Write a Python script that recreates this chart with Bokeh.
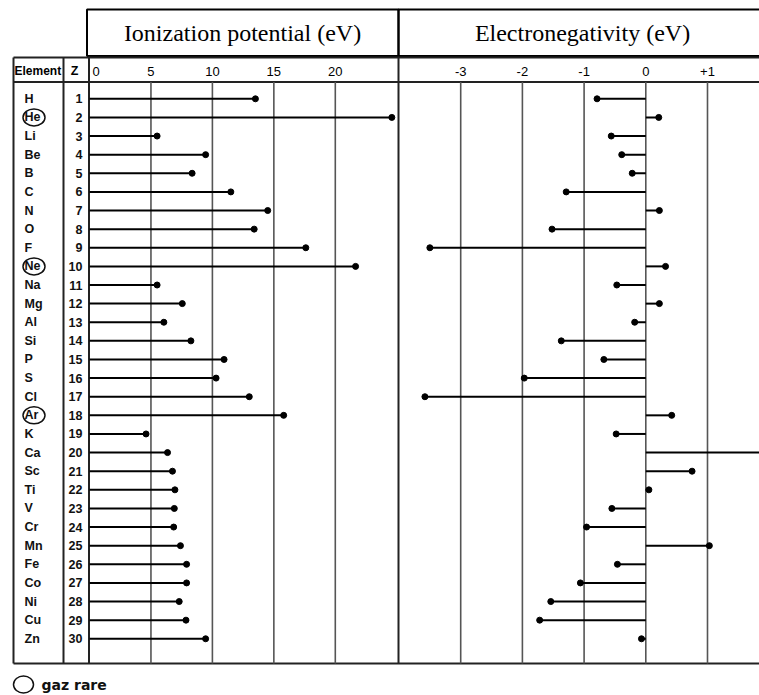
from bokeh.plotting import figure
from bokeh.models import Range1d
from bokeh.embed import file_html
from bokeh.resources import INLINE
from bokeh.core.properties import value

# ---------------- data ----------------
elements = ["H", "He", "Li", "Be", "B", "C", "N", "O", "F", "Ne",
            "Na", "Mg", "Al", "Si", "P", "S", "Cl", "Ar", "K", "Ca",
            "Sc", "Ti", "V", "Cr", "Mn", "Fe", "Co", "Ni", "Cu", "Zn"]
z_numbers = [1, 2, 3, 4, 5, 6, 7, 8, 9, 10,
             11, 12, 13, 14, 15, 16, 17, 18, 19, 20,
             21, 22, 23, 24, 25, 26, 27, 28, 29, 30]
ionization = [13.5, 24.6, 5.5, 9.45, 8.35, 11.5, 14.5, 13.4, 17.6, 21.65,
              5.5, 7.55, 6.05, 8.25, 10.95, 10.3, 13.0, 15.8, 4.6, 6.35,
              6.75, 6.95, 6.9, 6.85, 7.4, 7.9, 7.9, 7.3, 7.85, 9.45]
electronegativity = [-0.79, 0.21, -0.56, -0.39, -0.22, -1.29, 0.22, -1.52, -3.5, 0.32,
                     -0.47, 0.22, -0.18, -1.37, -0.68, -1.97, -3.58, 0.42, -0.48, 2.0,
                     0.75, 0.05, -0.55, -0.96, 1.03, -0.46, -1.06, -1.54, -1.72, -0.07]
rare_gases = ["He", "Ne", "Ar"]
ion_ticks = [0, 5, 10, 15, 20]
ion_tick_labels = ["0", "5", "10", "15", "20"]
en_ticks = [-3, -2, -1, 0, 1]
en_tick_labels = ["-3", "-2", "-1", "0", "+1"]
title_ion = "Ionization potential (eV)"
title_en = "Electronegativity (eV)"
legend_text = "gaz rare"

# ---------------- layout (page pixels) ----------------
W, H = 759, 695
LEFT, TOP = 0, 0
RIGHT, BOTTOM = LEFT + W, TOP + H

ion_x0, ion_scale = 89.0, 12.29      # page x of 0 eV, px per eV
en_x0, en_scale = 645.3, 61.7
row1_y, row_step = 98.3, 18.62

p = figure(width=W, height=H, x_range=Range1d(LEFT, RIGHT), y_range=Range1d(BOTTOM, TOP),
           x_axis_type=None, y_axis_type=None, toolbar_location=None,
           output_backend="svg", min_border=0, outline_line_color=None,
           background_fill_color="white", border_fill_color="white")

p.extra_x_ranges = {
    "ion": Range1d((LEFT - ion_x0) / ion_scale, (RIGHT - ion_x0) / ion_scale),
    "en": Range1d((LEFT - en_x0) / en_scale, (RIGHT - en_x0) / en_scale),
}
p.extra_y_ranges = {
    "z": Range1d(1 + (BOTTOM - row1_y) / row_step, 1 + (TOP - row1_y) / row_step),
}

border_col = "#222222"
grid_col = "#555555"

# title boxes
p.quad(left=[86.5, 398], right=[398, 780], top=[9, 9], bottom=[55.5, 55.5],
       fill_color=None, line_color="black", line_width=2)
p.text(x=[242, 582], y=[32, 32], text=[title_ion, title_en],
       text_font=value("Liberation Serif"), text_font_size="24px",
       text_align="center", text_baseline="middle", text_color="black")

# table frame
hy = [57, 81.5, 663]
p.segment(x0=[13] * 3, x1=[RIGHT + 5] * 3, y0=hy, y1=hy, line_color=border_col, line_width=2)
vx = [13, 63, 88.5, 398]
p.segment(x0=vx, x1=vx, y0=[57] * 4, y1=[663] * 4, line_color=border_col, line_width=2)

# grid lines
ion_grid = [t for t in ion_ticks if t != 0]
p.segment(x0=ion_grid, x1=ion_grid, y0=[81.5] * len(ion_grid), y1=[663] * len(ion_grid),
          x_range_name="ion", line_color=grid_col, line_width=1.6)
p.segment(x0=en_ticks, x1=en_ticks, y0=[81.5] * len(en_ticks), y1=[663] * len(en_ticks),
          x_range_name="en", line_color=grid_col, line_width=1.6)

# header row
hdr_font = value("Liberation Sans")
p.text(x=[14], y=[70.5], text=["Element"], text_font=hdr_font, text_font_style="bold",
       text_font_size="12px", text_align="left", text_baseline="middle")
p.text(x=[74], y=[70.5], text=["Z"], text_font=hdr_font, text_font_style="bold",
       text_font_size="12.5px", text_align="center", text_baseline="middle")
p.text(x=ion_ticks[:1], y=[70.5], text=ion_tick_labels[:1], x_range_name="ion", x_offset=3,
       text_font=hdr_font, text_font_size="13px", text_align="left", text_baseline="middle")
p.text(x=ion_ticks[1:], y=[70.5] * (len(ion_ticks) - 1), text=ion_tick_labels[1:], x_range_name="ion",
       text_font=hdr_font, text_font_size="13px", text_align="center", text_baseline="middle")
p.text(x=en_ticks, y=[70.5] * len(en_ticks), text=en_tick_labels, x_range_name="en",
       text_font=hdr_font, text_font_size="13px", text_align="center", text_baseline="middle")

# element and Z labels
p.text(x=[24] * len(elements), y=z_numbers, text=elements, y_range_name="z",
       text_font=hdr_font, text_font_style="bold", text_font_size="12.5px",
       text_align="left", text_baseline="middle", text_color="#111111")
p.text(x=[82] * len(z_numbers), y=z_numbers, text=[str(z) for z in z_numbers], y_range_name="z",
       text_font=hdr_font, text_font_style="bold", text_font_size="12.5px",
       text_align="right", text_baseline="middle", text_color="#111111")

# rare gas circles
rg_z = [z for z, e in zip(z_numbers, elements) if e in rare_gases]
p.ellipse(x=[33.5] * len(rg_z), y=rg_z, width=22, height=17, width_units="screen", height_units="screen",
          y_range_name="z", fill_color=None, line_color="#111111", line_width=1.5)

# ionization lollipops
p.segment(x0=[0] * len(ionization), x1=ionization, y0=z_numbers, y1=z_numbers,
          x_range_name="ion", y_range_name="z", line_color="black", line_width=2)
p.scatter(x=ionization, y=z_numbers, x_range_name="ion", y_range_name="z",
          size=6, color="black")

# electronegativity lollipops
p.segment(x0=[0] * len(electronegativity), x1=electronegativity, y0=z_numbers, y1=z_numbers,
          x_range_name="en", y_range_name="z", line_color="black", line_width=2)
p.scatter(x=electronegativity, y=z_numbers, x_range_name="en", y_range_name="z",
          size=6, color="black")

# legend
p.ellipse(x=[23], y=[684], width=20, height=17, fill_color=None, line_color="#111111", line_width=1.5)
p.text(x=[41], y=[684], text=[legend_text], text_font=value("DejaVu Sans"), text_font_style="bold",
       text_font_size="14px", text_align="left", text_baseline="middle", text_color="#111111")

open("out.html", "w").write(file_html(p, INLINE))
